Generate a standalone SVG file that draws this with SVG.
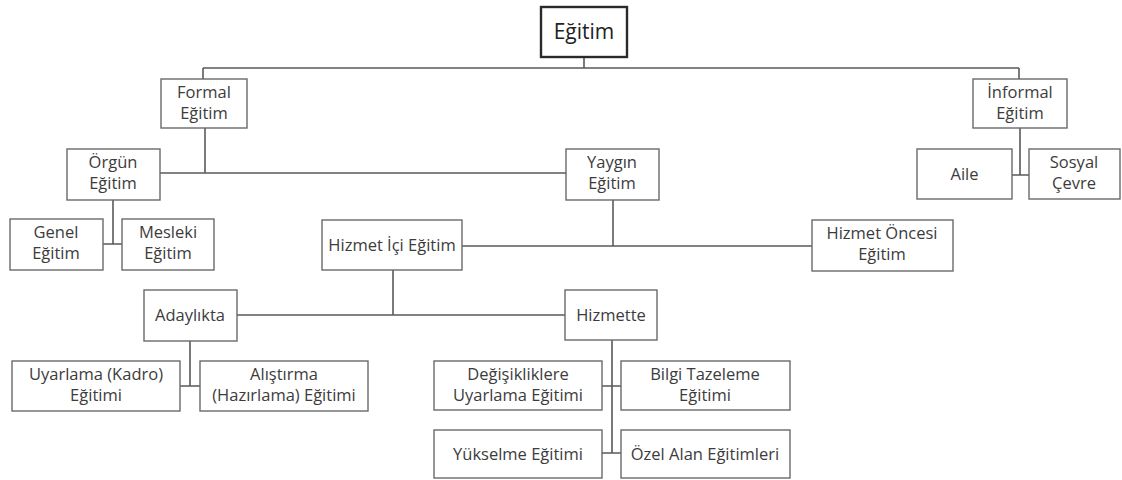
<svg xmlns="http://www.w3.org/2000/svg" width="1122" height="480" viewBox="0 0 1122 480">
<style>
.box{fill:#fff;stroke:#6a6a6a;stroke-width:1.4}
.root{fill:#fff;stroke:#2a2a2a;stroke-width:2.4}
.t{font-family:"Open Sans","Liberation Sans",sans-serif;font-size:16.5px;fill:#3c3c3c;text-anchor:middle}
.tr{font-family:"Open Sans","Liberation Sans",sans-serif;font-size:21px;fill:#222;text-anchor:middle}
.c{fill:none;stroke:#5a5a5a;stroke-width:1.6}
</style>
<rect width="1122" height="480" fill="#fff"/>
<g id="connectors">
<path class="c" d="M584 57V68M203 68H1019M203 68V79M1019 68V79"/>
<path class="c" d="M205 128V173M160 173H566"/>
<path class="c" d="M613 200V246M462 246H812"/>
<path class="c" d="M113 200V244M103 244H122"/>
<path class="c" d="M393 270V315M237 315H565"/>
<path class="c" d="M190 341V386M180 386H200"/>
<path class="c" d="M612 340V453M602 386H621M602 453H621"/>
<path class="c" d="M1020 128V175M1012 175H1029"/>
</g>
<g id="n-egitim"><rect class="root" x="541" y="7" width="86" height="50"/><text class="tr" x="584" y="39">Eğitim</text></g>
<g id="n-formal"><rect class="box" x="161" y="79" width="86" height="49"/><text class="t" x="204" y="98">Formal</text><text class="t" x="204" y="119">Eğitim</text></g>
<g id="n-informal"><rect class="box" x="973" y="79" width="94" height="49"/><text class="t" x="1020" y="98">İnformal</text><text class="t" x="1020" y="119">Eğitim</text></g>
<g id="n-aile"><rect class="box" x="917" y="149" width="95" height="50"/><text class="t" x="964.500" y="180">Aile</text></g>
<g id="n-sosyal"><rect class="box" x="1029" y="149" width="91" height="50"/><text class="t" x="1074" y="168">Sosyal</text><text class="t" x="1074" y="189">Çevre</text></g>
<g id="n-orgun"><rect class="box" x="67" y="149" width="93" height="51"/><text class="t" x="113" y="168">Örgün</text><text class="t" x="113" y="189">Eğitim</text></g>
<g id="n-yaygin"><rect class="box" x="566" y="149" width="93" height="51"/><text class="t" x="612" y="168">Yaygın</text><text class="t" x="612" y="189">Eğitim</text></g>
<g id="n-genel"><rect class="box" x="10" y="219" width="93" height="51"/><text class="t" x="56" y="238">Genel</text><text class="t" x="56" y="259">Eğitim</text></g>
<g id="n-mesleki"><rect class="box" x="122" y="219" width="92" height="51"/><text class="t" x="168" y="238">Mesleki</text><text class="t" x="168" y="259">Eğitim</text></g>
<g id="n-hizmetici"><rect class="box" x="322" y="220" width="140" height="50"/><text class="t" x="392" y="251">Hizmet İçi Eğitim</text></g>
<g id="n-hizmetoncesi"><rect class="box" x="812" y="220" width="141" height="51"/><text class="t" x="882" y="239">Hizmet Öncesi</text><text class="t" x="882" y="260">Eğitim</text></g>
<g id="n-adaylikta"><rect class="box" x="144" y="290" width="93" height="51"/><text class="t" x="190" y="321">Adaylıkta</text></g>
<g id="n-hizmette"><rect class="box" x="565" y="290" width="92" height="50"/><text class="t" x="611" y="321">Hizmette</text></g>
<g id="n-uyarlama"><rect class="box" x="12" y="361" width="168" height="50"/><text class="t" x="96" y="380">Uyarlama (Kadro)</text><text class="t" x="96" y="401">Eğitimi</text></g>
<g id="n-alistirma"><rect class="box" x="200" y="361" width="168" height="50"/><text class="t" x="284" y="380">Alıştırma</text><text class="t" x="284" y="401">(Hazırlama) Eğitimi</text></g>
<g id="n-degisik"><rect class="box" x="434" y="361" width="168" height="49"/><text class="t" x="518" y="380">Değişikliklere</text><text class="t" x="518" y="401">Uyarlama Eğitimi</text></g>
<g id="n-bilgi"><rect class="box" x="621" y="361" width="169" height="49"/><text class="t" x="705" y="380">Bilgi Tazeleme</text><text class="t" x="705" y="401">Eğitimi</text></g>
<g id="n-yukselme"><rect class="box" x="434" y="430" width="168" height="48"/><text class="t" x="518" y="460">Yükselme Eğitimi</text></g>
<g id="n-ozel"><rect class="box" x="621" y="430" width="169" height="48"/><text class="t" x="705" y="460">Özel Alan Eğitimleri</text></g>
</svg>
